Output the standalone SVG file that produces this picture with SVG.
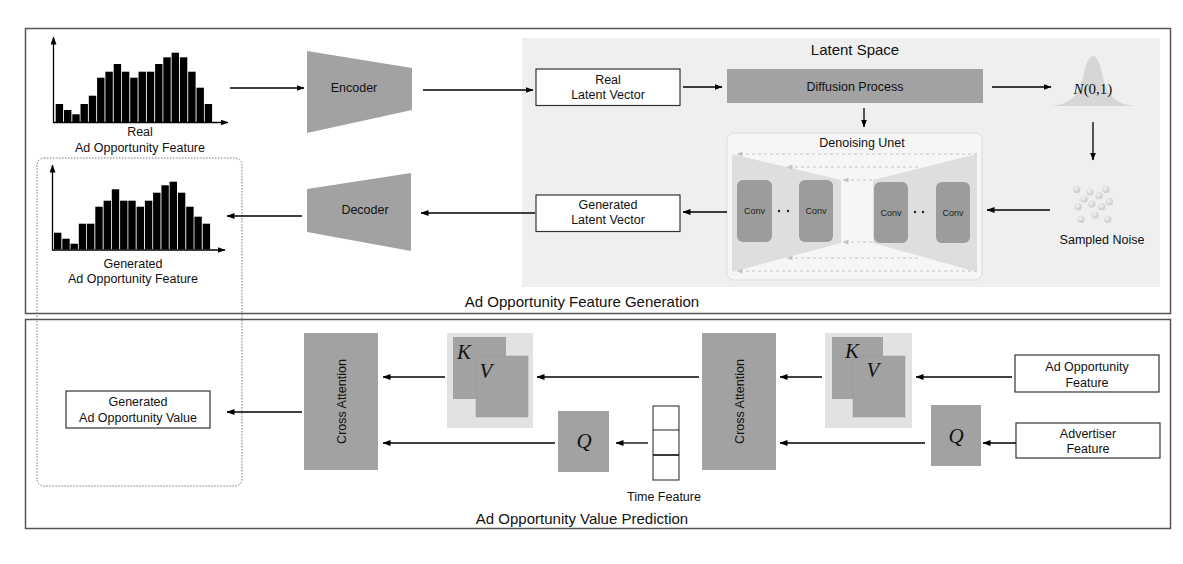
<svg xmlns="http://www.w3.org/2000/svg" width="1183" height="564" viewBox="0 0 1183 564">
<defs>
<marker id="ah" markerWidth="8" markerHeight="6" refX="7.5" refY="3" orient="auto" markerUnits="userSpaceOnUse"><path d="M0,0 L8,3 L0,6 z" fill="#000"/></marker>
<marker id="ahg" markerWidth="6" markerHeight="5" refX="5.5" refY="2.5" orient="auto" markerUnits="userSpaceOnUse"><path d="M0,0 L6,2.5 L0,5 z" fill="#c4c4c4"/></marker>
<radialGradient id="dot" cx="0.4" cy="0.35" r="0.7"><stop offset="0" stop-color="#f4f4f4"/><stop offset="1" stop-color="#c6c6c6"/></radialGradient>
<style>
.t{font-family:"Liberation Sans",Arial,sans-serif;font-size:12.5px;fill:#111;text-anchor:middle}
.tl{font-family:"Liberation Sans",Arial,sans-serif;font-size:15px;fill:#111;text-anchor:middle}
.ts{font-family:"Liberation Sans",Arial,sans-serif;font-size:9px;fill:#222;text-anchor:middle}
.m{font-family:"Liberation Serif","Times New Roman",serif;font-style:italic;font-size:21px;fill:#111;text-anchor:middle}
.frame{fill:#fff;stroke:#555;stroke-width:1.5}
.box{fill:#fff;stroke:#333;stroke-width:1.2}
.dk{fill:#a2a2a2}
.ln{stroke:#000;stroke-width:1.3;fill:none}
.dl{stroke:#c4c4c4;stroke-width:1.2;stroke-dasharray:3 3;fill:none}
.bar{fill:#000}
</style>
</defs>
<rect width="1183" height="564" fill="#fff"/>
<g id="frames">
<rect class="frame" x="25.5" y="28.5" width="1145" height="285"/>
<rect class="frame" x="25.5" y="319.5" width="1145" height="209"/>
<text class="tl" x="582" y="307">Ad Opportunity Feature Generation</text>
<text class="tl" x="582" y="524">Ad Opportunity Value Prediction</text>
</g>
<g id="latent-space">
<rect x="522" y="38" width="638" height="249" fill="#efefef"/>
<text class="tl" x="855" y="55">Latent Space</text>
</g>
<g id="real-hist">
<g class="bar">
<rect x="55.7" y="104" width="7.4" height="18"/><rect x="64" y="110" width="7.4" height="12"/><rect x="72.3" y="114.3" width="7.4" height="7.7"/><rect x="80.5" y="104" width="7.4" height="18"/><rect x="88.8" y="95.7" width="7.4" height="26.3"/><rect x="97.1" y="77.7" width="7.4" height="44.3"/><rect x="105.4" y="71.7" width="7.4" height="50.3"/><rect x="113.7" y="64" width="7.4" height="58"/><rect x="121.9" y="71.7" width="7.4" height="50.3"/><rect x="130.2" y="77.7" width="7.4" height="44.3"/><rect x="138.5" y="71.7" width="7.4" height="50.3"/><rect x="146.8" y="71.7" width="7.4" height="50.3"/><rect x="155.1" y="64" width="7.4" height="58"/><rect x="163.3" y="57.3" width="7.4" height="64.7"/><rect x="171.6" y="52.7" width="7.4" height="69.3"/><rect x="179.9" y="57.3" width="7.4" height="64.7"/><rect x="188.2" y="71.7" width="7.4" height="50.3"/><rect x="196.5" y="87.7" width="7.4" height="34.3"/><rect x="204.7" y="104" width="7.4" height="18"/>
</g>
<line class="ln" x1="53.5" y1="122.5" x2="53.5" y2="37" marker-end="url(#ah)"/>
<line class="ln" x1="53" y1="122.5" x2="228" y2="122.5" marker-end="url(#ah)"/>
<text class="t" x="140" y="135.5">Real</text>
<text class="t" x="140" y="151.5">Ad Opportunity Feature</text>
</g>
<g id="generated-group">
<rect x="37" y="158" width="205" height="328" rx="7" fill="none" stroke="#777" stroke-width="1" stroke-dasharray="1.5 1.5"/>
</g>
<g id="gen-hist">
<g class="bar">
<rect x="54" y="232.7" width="7.4" height="16.8"/><rect x="62.3" y="238.7" width="7.4" height="10.8"/><rect x="70.5" y="243.7" width="7.4" height="5.8"/><rect x="78.8" y="223.7" width="7.4" height="25.8"/><rect x="87" y="223.7" width="7.4" height="25.8"/><rect x="95.3" y="206.7" width="7.4" height="42.8"/><rect x="103.6" y="200.7" width="7.4" height="48.8"/><rect x="111.8" y="189.3" width="7.4" height="60.2"/><rect x="120.1" y="200.7" width="7.4" height="48.8"/><rect x="128.3" y="200.7" width="7.4" height="48.8"/><rect x="136.6" y="206.7" width="7.4" height="42.8"/><rect x="144.9" y="200.7" width="7.4" height="48.8"/><rect x="153.1" y="192.7" width="7.4" height="56.8"/><rect x="161.4" y="185.3" width="7.4" height="64.2"/><rect x="169.6" y="181.7" width="7.4" height="67.8"/><rect x="177.9" y="192.7" width="7.4" height="56.8"/><rect x="186.2" y="206.7" width="7.4" height="42.8"/><rect x="194.4" y="216.7" width="7.4" height="32.8"/><rect x="202.7" y="223.7" width="7.4" height="25.8"/>
</g>
<line class="ln" x1="52.5" y1="250" x2="52.5" y2="165" marker-end="url(#ah)"/>
<line class="ln" x1="52" y1="250" x2="225" y2="250" marker-end="url(#ah)"/>
<text class="t" x="133" y="267.5">Generated</text>
<text class="t" x="133" y="283">Ad Opportunity Feature</text>
</g>
<g id="encoder">
<polygon class="dk" points="307,51 412,68 412,110 307,133"/>
<text class="t" x="354" y="92">Encoder</text>
</g>
<g id="decoder">
<polygon class="dk" points="307,189 411,173 411,251 307,232"/>
<text class="t" x="365" y="214">Decoder</text>
</g>
<g id="real-latent">
<rect class="box" x="536" y="69" width="144" height="36.5"/>
<text class="t" x="608" y="83.5">Real</text>
<text class="t" x="608" y="99">Latent Vector</text>
</g>
<g id="generated-latent">
<rect class="box" x="536" y="195" width="144" height="36.5"/>
<text class="t" x="608" y="208.5">Generated</text>
<text class="t" x="608" y="224">Latent Vector</text>
</g>
<g id="diffusion">
<rect class="dk" x="727" y="69" width="256" height="34"/>
<text class="t" x="855" y="91">Diffusion Process</text>
</g>
<g id="unet">
<rect x="727" y="133" width="255" height="147" rx="7" fill="#f6f6f6" stroke="#dcdcdc" stroke-width="1"/>
<text class="t" x="862" y="146.5">Denoising Unet</text>
<polygon points="732,154 841,180 841,243 732,272" fill="#dedede"/>
<polygon points="873,180 977,154 977,272 873,243" fill="#dedede"/>
<line class="dl" x1="977" y1="154" x2="737" y2="154" marker-end="url(#ahg)"/>
<line class="dl" x1="918" y1="167" x2="787" y2="167" marker-end="url(#ahg)"/>
<line class="dl" x1="872" y1="180" x2="843" y2="180" marker-end="url(#ahg)"/>
<line class="dl" x1="872" y1="242" x2="843" y2="242" marker-end="url(#ahg)"/>
<line class="dl" x1="918" y1="258" x2="787" y2="258" marker-end="url(#ahg)"/>
<line class="dl" x1="977" y1="271" x2="737" y2="271" marker-end="url(#ahg)"/>
<rect x="737" y="180" width="35" height="62" rx="6" fill="#9c9c9c"/>
<rect x="799" y="180" width="34" height="62" rx="6" fill="#9c9c9c"/>
<rect x="874" y="182" width="34" height="61" rx="6" fill="#9c9c9c"/>
<rect x="936" y="182" width="34" height="61" rx="6" fill="#9c9c9c"/>
<text class="ts" x="754.5" y="214">Conv</text>
<text class="ts" x="816" y="214">Conv</text>
<text class="ts" x="891" y="215.5">Conv</text>
<text class="ts" x="953" y="215.5">Conv</text>
<circle cx="779" cy="211" r="1.2" fill="#222"/><circle cx="788" cy="211" r="1.2" fill="#222"/>
<circle cx="915" cy="212" r="1.2" fill="#222"/><circle cx="923" cy="212" r="1.2" fill="#222"/>
</g>
<g id="normal">
<path d="M1049,106 C1070,105 1079,96 1084,74 C1088,50 1098,50 1102,74 C1107,96 1116,105 1137,106 Z" fill="#d6d6d6"/>
<text x="1093" y="94" style="font-family:'Liberation Serif','Times New Roman',serif;font-size:15px;fill:#111;text-anchor:middle"><tspan font-style="italic">N</tspan>(0,1)</text>
</g>
<g id="sampled-noise">
<g fill="url(#dot)">
<circle cx="1076.7" cy="189.3" r="3.6"/><circle cx="1090" cy="192" r="3.6"/><circle cx="1106" cy="189.3" r="3.6"/><circle cx="1084" cy="199" r="3.6"/><circle cx="1099" cy="195.7" r="3.6"/><circle cx="1078.3" cy="206.7" r="3.6"/><circle cx="1091.7" cy="204" r="3.6"/><circle cx="1101.7" cy="206.7" r="3.6"/><circle cx="1109.3" cy="201.7" r="3.6"/><circle cx="1081" cy="219.3" r="3.6"/><circle cx="1095" cy="215" r="3.6"/><circle cx="1107.7" cy="219.3" r="3.6"/>
</g>
<text class="t" x="1102" y="243.5">Sampled Noise</text>
</g>
<g id="gen-value">
<rect class="box" x="66" y="391" width="144" height="37"/>
<text class="t" x="138" y="406">Generated</text>
<text class="t" x="138" y="422">Ad Opportunity Value</text>
</g>
<g id="cross-attention-1">
<rect class="dk" x="304" y="333" width="74" height="137"/>
<text class="t" transform="translate(345.5,401.5) rotate(-90)">Cross Attention</text>
</g>
<g id="cross-attention-2">
<rect class="dk" x="702" y="333" width="74" height="137"/>
<text class="t" transform="translate(743.5,401.5) rotate(-90)">Cross Attention</text>
</g>
<g id="kv-1">
<rect x="447" y="333" width="86" height="95" fill="#e2e2e2"/>
<rect class="dk" x="453" y="337" width="53" height="62"/>
<rect class="dk" x="476" y="356" width="52" height="61" stroke="#999" stroke-width="0.5"/>
<text class="m" x="464" y="359">K</text>
<text class="m" x="486" y="378">V</text>
</g>
<g id="kv-2">
<rect x="825" y="333" width="87" height="95" fill="#e2e2e2"/>
<rect class="dk" x="832" y="337" width="51" height="62"/>
<rect class="dk" x="853" y="356" width="52" height="61" stroke="#999" stroke-width="0.5"/>
<text class="m" x="852" y="358">K</text>
<text class="m" x="873" y="377">V</text>
</g>
<g id="q-1">
<rect class="dk" x="558" y="411" width="51" height="61"/>
<text class="m" x="584" y="448">Q</text>
</g>
<g id="q-2">
<rect class="dk" x="931" y="405" width="50" height="61"/>
<text class="m" x="956" y="443">Q</text>
</g>
<g id="time-feature">
<rect x="653" y="406" width="26" height="74" fill="#fff" stroke="#222" stroke-width="1"/>
<line x1="653" y1="430" x2="679" y2="430" stroke="#222" stroke-width="1"/>
<line x1="653" y1="455" x2="679" y2="455" stroke="#222" stroke-width="1.8"/>
<text class="t" x="664" y="501">Time Feature</text>
</g>
<g id="ad-feature">
<rect class="box" x="1015" y="355" width="144" height="37"/>
<text class="t" x="1087" y="370.5">Ad Opportunity</text>
<text class="t" x="1087" y="387">Feature</text>
</g>
<g id="advertiser-feature">
<rect class="box" x="1016" y="423" width="144" height="35"/>
<text class="t" x="1088" y="437.5">Advertiser</text>
<text class="t" x="1088" y="453">Feature</text>
</g>
<g id="connectors">
<line class="ln" x1="230" y1="88" x2="304" y2="88" marker-end="url(#ah)"/>
<line class="ln" x1="423" y1="90" x2="533" y2="90" marker-end="url(#ah)"/>
<line class="ln" x1="683" y1="87" x2="722" y2="87" marker-end="url(#ah)"/>
<line class="ln" x1="992" y1="87" x2="1051" y2="87" marker-end="url(#ah)"/>
<line class="ln" x1="864" y1="108" x2="864" y2="127" marker-end="url(#ah)"/>
<line class="ln" x1="1093" y1="122" x2="1093" y2="160" marker-end="url(#ah)"/>
<line class="ln" x1="1050" y1="210" x2="987" y2="210" marker-end="url(#ah)"/>
<line class="ln" x1="727" y1="212" x2="683" y2="212" marker-end="url(#ah)"/>
<line class="ln" x1="535" y1="213" x2="421" y2="213" marker-end="url(#ah)"/>
<line class="ln" x1="302" y1="216" x2="227" y2="216" marker-end="url(#ah)"/>
<line class="ln" x1="302" y1="412" x2="227" y2="412" marker-end="url(#ah)"/>
<line class="ln" x1="445" y1="377" x2="383" y2="377" marker-end="url(#ah)"/>
<line class="ln" x1="555" y1="443" x2="383" y2="443" marker-end="url(#ah)"/>
<line class="ln" x1="699" y1="377" x2="537" y2="377" marker-end="url(#ah)"/>
<line class="ln" x1="648" y1="443" x2="616" y2="443" marker-end="url(#ah)"/>
<line class="ln" x1="822" y1="377" x2="780" y2="377" marker-end="url(#ah)"/>
<line class="ln" x1="925" y1="443" x2="780" y2="443" marker-end="url(#ah)"/>
<line class="ln" x1="1012" y1="377" x2="916" y2="377" marker-end="url(#ah)"/>
<line class="ln" x1="1016" y1="443" x2="983" y2="443" marker-end="url(#ah)"/>
</g>
</svg>
